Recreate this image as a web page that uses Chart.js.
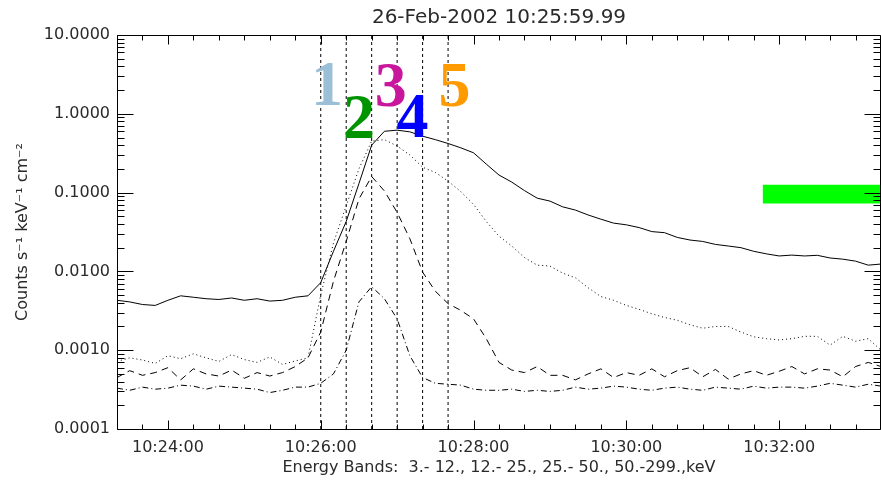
<!DOCTYPE html>
<html>
<head>
<meta charset="utf-8">
<script src="https://cdn.jsdelivr.net/npm/chart.js@4.4.1/dist/chart.umd.min.js"></script>
<style>
html,body{margin:0;padding:0;background:#fff}
</style>
</head>
<body>
<canvas id="lc" width="881" height="483"></canvas>
<script>
// light curve, 4 energy bands, 10 s bins starting 10:23:20
const startSec = 37400;
const endSec = 38000;
const tOff = [0,10,20,30,40,50,60,70,80,90,100,110,120,130,140,150,160,170,180,190,200,210,220,230,240,250,260,270,280,290,300,
  310,320,330,340,350,360,370,380,390,400,410,420,430,440,450,460,470,480,490,500,510,520,530,540,550,560,570,580,590,600];

const band1 = [0.0043,0.0041,0.0038,0.0037,0.0043,0.0049,0.0047,0.0045,0.0044,0.0046,
  0.0043,0.0045,0.0042,0.0043,0.0047,0.0049,0.0072,0.018,0.043,0.13,
  0.40,0.60,0.62,0.59,0.52,0.47,0.42,0.37,0.32,0.23,
  0.167,0.136,0.106,0.085,0.078,0.066,0.060,0.052,0.046,0.041,
  0.039,0.036,0.032,0.031,0.027,0.025,0.024,0.022,0.021,0.020,
  0.018,0.0167,0.0157,0.0161,0.0157,0.0160,0.0148,0.0143,0.0135,0.0120,
  0.0124];
const band2 = [0.00072,0.00080,0.00075,0.00068,0.00085,0.00078,0.00090,0.00080,0.00072,0.00088,
  0.00076,0.00070,0.00082,0.00066,0.00073,0.00080,0.0050,0.023,0.068,0.20,
  0.45,0.47,0.39,0.30,0.21,0.18,0.14,0.103,0.071,0.043,
  0.028,0.021,0.015,0.012,0.0117,0.0095,0.0083,0.0062,0.0048,0.0043,
  0.0037,0.0033,0.0029,0.0026,0.0024,0.0021,0.0019,0.0020,0.0020,0.0017,
  0.00148,0.0014,0.00135,0.0014,0.0015,0.0015,0.00116,0.0015,0.0013,0.0014,
  0.0010];
const band3 = [0.00045,0.00055,0.00048,0.00052,0.00060,0.00042,0.00058,0.00050,0.00047,0.00056,
  0.00044,0.00052,0.00047,0.00052,0.00062,0.00080,0.0017,0.0075,0.024,0.083,
  0.16,0.105,0.056,0.026,0.0098,0.0056,0.0039,0.0032,0.0025,0.0014,
  0.00070,0.00056,0.00052,0.00062,0.00048,0.00048,0.00042,0.00050,0.00058,0.00045,
  0.00052,0.00048,0.00058,0.00046,0.00055,0.00060,0.00046,0.00057,0.00043,0.00050,
  0.00055,0.00048,0.00054,0.00062,0.00050,0.00058,0.00056,0.00046,0.00062,0.00070,
  0.00062];
const band4 = [0.00033,0.00031,0.00034,0.00032,0.00033,0.00036,0.00035,0.00032,0.00035,0.00034,
  0.00033,0.00032,0.00029,0.00031,0.00034,0.00034,0.00038,0.00050,0.0010,0.0041,
  0.0064,0.0045,0.0025,0.00085,0.00045,0.00038,0.00037,0.00036,0.00032,0.00031,
  0.00031,0.00032,0.00030,0.00031,0.00030,0.00031,0.00034,0.00032,0.00033,0.00035,
  0.00034,0.00032,0.00031,0.00033,0.00034,0.00032,0.00031,0.00034,0.00033,0.00032,
  0.00035,0.00033,0.00034,0.00034,0.00033,0.00035,0.00038,0.00036,0.00034,0.00037,
  0.00035];

// interval boundaries (s after start) and their numbers
const markerOff = [160,180,200,220,240,260];
const tagText = ['1','2','3','4','5'];
const tagColor = ['#9bbfd7','#009400','#c8179c','#0000ff','#ff9a00'];
const tagOff = [165,190,215,232,265];
const tagVal = [1.29,0.49,1.26,0.51,1.26];

// green bar top right
const barOff = [507,600];
const barRange = [0.0726,0.126];

const xLabelOff = [40,160,280,400,520];
const decades = [0.0001,0.001,0.01,0.1,1,10];

const FONT = "'DejaVu Sans', sans-serif";
const INK = '#2a2a2a';

function hms(s){
  const h=Math.floor(s/3600), m=Math.floor(s%3600/60), ss=s%60;
  return [h,m,ss].map(v=>String(v).padStart(2,'0')).join(':');
}
function pts(vals){return tOff.map((o,i)=>({x:startSec+o,y:vals[i]}))}

const datasets = [
  {data:barOff.map(o=>({x:startSec+o,y:barRange[1]})),borderWidth:0,backgroundColor:'#00ff00',fill:'+1',pointRadius:0},
  {data:barOff.map(o=>({x:startSec+o,y:barRange[0]})),borderWidth:0,fill:false,pointRadius:0},
  {data:pts(band1),borderDash:[]},
  {data:pts(band2),borderDash:[1,3]},
  {data:pts(band3),borderDash:[7,5]},
  {data:pts(band4),borderDash:[6,3,1,3]},
  ...markerOff.map(o=>({data:[{x:startSec+o,y:1e-4},{x:startSec+o,y:10}],borderDash:[3,3]}))
];
datasets.forEach(d=>{
  if(d.borderWidth===undefined){d.borderWidth=1;d.borderColor='#000';d.fill=false;d.pointRadius=0;d.tension=0}
});

const idlFrame = {
  id:'idlFrame',
  afterDatasetsDraw(chart){
    const {ctx, chartArea:a, scales:{x,y}} = chart;
    ctx.save();
    ctx.strokeStyle='#000'; ctx.lineWidth=1;
    const L=a.left+0.5, R=a.right-0.5, T=a.top+0.5, B=a.bottom+0.5;
    ctx.beginPath();
    ctx.rect(L,T,R-L,B-T);
    // y ticks, both sides
    for(let e=-4;e<=1;e++){
      for(let m=1;m<=9;m++){
        const v=m*Math.pow(10,e);
        if(v>10.0001) break;
        const py=Math.round(y.getPixelForValue(v))+0.5;
        const len=m===1?16:7;
        ctx.moveTo(L,py); ctx.lineTo(L+len,py);
        ctx.moveTo(R,py); ctx.lineTo(R-len,py);
      }
    }
    // x ticks every 20 s, longer every 2 min
    for(let s=startSec;s<=endSec;s+=20){
      const px=Math.round(x.getPixelForValue(s))+0.5;
      const len=s%120===0?9:5;
      ctx.moveTo(px,B); ctx.lineTo(px,B-len);
      ctx.moveTo(px,T); ctx.lineTo(px,T+len);
    }
    ctx.stroke();
    // interval numbers
    ctx.font="bold 64px 'Liberation Serif', serif";
    ctx.textAlign='center'; ctx.textBaseline='alphabetic';
    tagText.forEach((t,i)=>{
      ctx.fillStyle=tagColor[i];
      ctx.fillText(t, x.getPixelForValue(startSec+tagOff[i]), y.getPixelForValue(tagVal[i]));
    });
    ctx.restore();
  }
};

new Chart(document.getElementById('lc'),{
  type:'line',
  data:{datasets},
  options:{
    responsive:false, animation:false, devicePixelRatio:1,
    layout:{padding:{left:0,right:-3,top:0,bottom:0}},
    plugins:{
      legend:{display:false}, tooltip:{enabled:false},
      title:{display:true,text:'26-Feb-2002 10:25:59.99',fullSize:false,color:INK,
        font:{family:FONT,size:20,weight:'normal'},padding:{top:6,bottom:5}}
    },
    scales:{
      x:{type:'linear',min:startSec,max:endSec,
        afterBuildTicks:sc=>{sc.ticks=xLabelOff.map(o=>({value:startSec+o}))},
        afterFit:sc=>{sc.height=54},
        grid:{display:false,drawTicks:false},border:{display:false},
        ticks:{callback:v=>hms(v),color:INK,font:{family:FONT,size:16},padding:9,maxRotation:0,autoSkip:false},
        title:{display:true,text:'Energy Bands:  3.- 12., 12.- 25., 25.- 50., 50.-299.,keV',color:INK,
          font:{family:FONT,size:16},padding:{top:0,bottom:6}}
      },
      y:{type:'logarithmic',min:1e-4,max:10,
        afterBuildTicks:sc=>{sc.ticks=decades.map(v=>({value:v}))},
        afterFit:sc=>{sc.width=117},
        grid:{display:false,drawTicks:false},border:{display:false},
        ticks:{callback:v=>Number(v).toFixed(4),color:INK,font:{family:FONT,size:16},padding:7,autoSkip:false},
        title:{display:true,text:'Counts s⁻¹ keV⁻¹ cm⁻²',color:INK,
          font:{family:FONT,size:16},padding:{top:13,bottom:0}}
      }
    }
  },
  plugins:[idlFrame]
});
</script>
</body>
</html>
